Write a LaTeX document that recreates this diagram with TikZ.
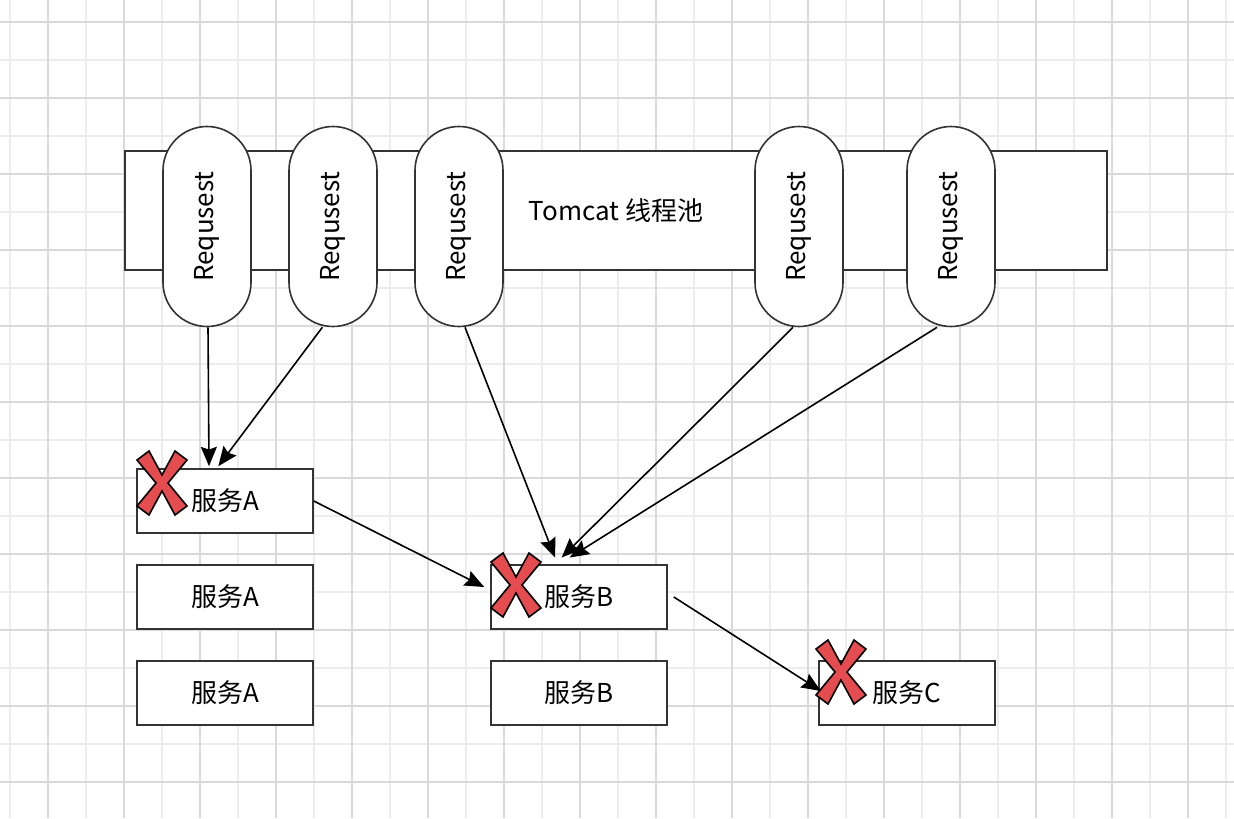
\documentclass[tikz,border=0pt]{standalone}
\usepackage{fontspec}
\newfontfamily\cjk{Noto Sans CJK SC}
\usetikzlibrary{arrows.meta}
\definecolor{gridlight}{RGB}{236,236,236}
\definecolor{griddark}{RGB}{218,218,218}
\definecolor{xred}{RGB}{228,76,80}
\begin{document}
\begin{tikzpicture}[x=0.75pt, y=-0.75pt,
			>={Stealth[length=14.5pt,width=12pt,inset=2pt]},   %Pfeilspitzen
			font=\cjk\fontsize{19.5pt}{21pt}\selectfont,
			box/.style={draw=black!80, line width=1.2pt, fill=white, minimum width=132pt, minimum height=48pt, inner sep=0pt},
			req/.style={draw=black!80, line width=1.2pt, fill=white, rectangle, rounded corners=33pt, minimum width=66pt, minimum height=150pt, inner sep=0pt},
			conn/.style={->, line width=1.2pt}]
			\useasboundingbox (0,0) rectangle (1234,818);
			%Raster zeichnen
			\fill[white] (0,0) rectangle (1234,818);
			\foreach \x in {10,48,...,1234} \draw[gridlight, line width=1pt] (\x,0) -- (\x,818);
			\foreach \y in {22,60,...,818} \draw[gridlight, line width=1pt] (0,\y) -- (1234,\y);
			\foreach \x in {48,124,...,1234} \draw[griddark, line width=1pt] (\x,0) -- (\x,818);
			\foreach \y in {22,98,...,818} \draw[griddark, line width=1pt] (0,\y) -- (1234,\y);
			% Thread pool
			\node[draw=black!80, line width=1.2pt, fill=white, minimum width=736.5pt, minimum height=89pt, inner sep=0pt] (pool) at (616,210.5) {};
			\node (pooltext) at (616,211) {Tomcat 线程池};
			% Requests
			\foreach \name/\x in {req1/207,req2/333,req3/459,req4/799,req5/951}
				\node[req] (\name) at (\x,226.5) {\rotatebox{90}{Requsest}};
			% Services
			\node[box] (sa1) at (225,501) {服务A};
			\node[box] (sa2) at (225,597) {服务A};
			\node[box] (sa3) at (225,693) {服务A};
			\node[box] (sb1) at (579,597) {服务B};
			\node[box] (sb2) at (579,693) {服务B};
			\node[box] (sc1) at (907,693) {服务C};
			% rote Kreuze
			\foreach \cx/\cy in {162/483, 516/585, 841/672}
				\draw[black, line width=1.2pt, fill=xred, line join=miter]
					(\cx-25,\cy-23) -- (\cx-13,\cy-32) -- (\cx,\cy-8) -- (\cx+13,\cy-32) -- (\cx+25,\cy-23)
					-- (\cx+6,\cy) -- (\cx+25,\cy+23) -- (\cx+13,\cy+32) -- (\cx,\cy+8) -- (\cx-13,\cy+32)
					-- (\cx-25,\cy+23) -- (\cx-6,\cy) -- cycle;
			% Pfeile
			\draw[conn] ([xshift=0.75pt]req1.south) -- ([xshift=-12pt,yshift=1.5pt]sa1.north);
			\draw[conn] ([xshift=-8pt]req2.south) -- ([xshift=-5pt,yshift=1.5pt]sa1.north);
			\draw[conn] (sa1.east) -- ([xshift=-4.5pt,yshift=7.5pt]sb1.west);
			\draw[conn] ([xshift=4.5pt]req3.south) -- ([xshift=-18pt,yshift=5pt]sb1.north);
			\draw[conn] ([xshift=-4.5pt]req4.south) -- ([xshift=-13pt,yshift=5pt]sb1.north);
			\draw[conn] ([xshift=-10.5pt]req5.south) -- ([xshift=-7pt,yshift=5pt]sb1.north);
			\draw[conn] ([xshift=4.5pt]sb1.east) -- ([xshift=2pt,yshift=1.5pt]sc1.west);
		\end{tikzpicture}
\end{document}
